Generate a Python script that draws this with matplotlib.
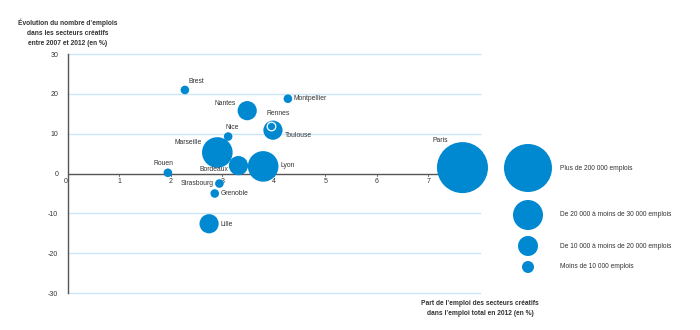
import numpy as np
import matplotlib.pyplot as plt

# Villes : part de l'emploi créatif (x, en %) et évolution 2007-2012 (y, en %)
villes = ["Paris", "Lyon", "Marseille", "Toulouse", "Nantes", "Lille", "Bordeaux",
          "Brest", "Montpellier", "Rennes", "Nice", "Rouen", "Strasbourg", "Grenoble"]
part = [7.66, 3.79, 2.90, 3.98, 3.48, 2.74, 3.31,
        2.27, 4.27, 3.95, 3.11, 1.94, 2.94, 2.85]
evolution = [1.5, 1.8, 5.3, 10.9, 15.8, -12.6, 2.0,
             21.0, 18.8, 12.0, 9.3, 0.2, -2.5, -5.0]
# classe d'emplois : 0 = plus de 200 000, 1 = 20-30 000, 2 = 10-20 000, 3 = moins de 10 000
classe = [0, 1, 1, 2, 2, 2, 2, 3, 3, 3, 3, 3, 3, 3]

classes_legende = ["Plus de 200 000 emplois",
                   "De 20 000 à moins de 30 000 emplois",
                   "De 10 000 à moins de 20 000 emplois",
                   "Moins de 10 000 emplois"]

x_ticks = [0, 1, 2, 3, 4, 5, 6, 7, 8]
y_ticks = [-30, -20, -10, 0, 10, 20, 30]

BLEU = "#0088d1"
GRILLE = "#c8e6f8"
GRIS = "#555555"
TEXTE = "#333333"
DPI = 100

plt.rcParams['font.family'] = ['Liberation Sans Narrow', 'Liberation Sans', 'DejaVu Sans']


def aire(r_px):
    # rayon en pixels -> aire de marqueur en points^2
    return (2 * r_px * 72 / DPI) ** 2


rayon_ville = [25.5, 15.3, 9.6, 4.3]
rayon_legende = [24, 15, 10, 6]

fig = plt.figure(figsize=(7, 3.3), dpi=DPI)
ax = fig.add_axes([0.0971, 0.112, 0.5886, 0.724])
ax.set_xlim(0, 8)
ax.set_ylim(-30, 30)

for yt in y_ticks:
    if yt != 0:
        ax.axhline(yt, color=GRILLE, lw=1.0, zorder=1, clip_on=False)
ax.axhline(0, color=GRIS, lw=1.0, zorder=2)

for s in ["top", "right", "bottom"]:
    ax.spines[s].set_visible(False)
ax.spines["left"].set_color(GRIS)
ax.spines["left"].set_linewidth(1.0)
ax.spines["left"].set_zorder(3)

ax.set_yticks(y_ticks)
ax.set_yticklabels([str(v) for v in y_ticks], fontsize=5.0, color=TEXTE)
ax.tick_params(axis="y", length=0, pad=7)
ax.set_xticks([])
for xt in x_ticks:
    ax.plot([xt, xt], [0, -0.6], color=GRIS, lw=0.6, zorder=2)
    ax.text(xt, -2.1, str(xt), fontsize=5.0, color=TEXTE,
            ha="right" if xt == 0 else "center", va="center")

tailles = [aire(rayon_ville[c]) for c in classe]
ordre = np.argsort([-t for t in tailles], kind="stable")
for i in ordre:
    rennes = villes[i] == "Rennes"
    ax.scatter(part[i], evolution[i], s=tailles[i], color=BLEU,
               edgecolors="white" if rennes else "none",
               linewidths=0.9 if rennes else 0, zorder=4 if rennes else 3,
               clip_on=False)

# décalage des étiquettes en pixels (dx, dy, alignement)
decalages = {
    "Paris": (-22, 27, "center"),
    "Lyon": (17, 1, "left"),
    "Marseille": (-16, 10, "right"),
    "Toulouse": (12, -5, "left"),
    "Nantes": (-11, 7, "right"),
    "Lille": (11, -1, "left"),
    "Bordeaux": (-10, -4, "right"),
    "Brest": (4, 8, "left"),
    "Montpellier": (6, 0, "left"),
    "Rennes": (7, 12, "center"),
    "Nice": (4, 9, "center"),
    "Rouen": (-4, 9, "center"),
    "Strasbourg": (-6, 0, "right"),
    "Grenoble": (6, 0, "left"),
}
for i, v in enumerate(villes):
    dx, dy, ha = decalages[v]
    ax.annotate(v, (part[i], evolution[i]), xytext=(dx * 0.72, dy * 0.72),
                textcoords="offset points", fontsize=4.85, color=TEXTE,
                ha=ha, va="center", zorder=5)

ax.text(0, 35.4, "Évolution du nombre d’emplois\ndans les secteurs créatifs\nentre 2007 et 2012 (en %)",
        fontsize=4.8, fontweight="bold", color=TEXTE, ha="center", va="center",
        linespacing=1.55, clip_on=False)
ax.text(8, -33.8, "Part de l’emploi des secteurs créatifs\ndans l’emploi total en 2012 (en %)",
        fontsize=4.8, fontweight="bold", color=TEXTE, ha="center", va="center",
        linespacing=1.55, clip_on=False)

# légende des tailles
lax = fig.add_axes([0, 0, 1, 1], zorder=5)
lax.set_xlim(0, 700)
lax.set_ylim(330, 0)
lax.axis("off")
leg_y = [168, 215, 246, 267]
for lab, r, y in zip(classes_legende, rayon_legende, leg_y):
    lax.scatter(528, y, s=aire(r), color=BLEU, edgecolors="none")
    lax.text(560, y, lab, fontsize=4.75, color=TEXTE, ha="left", va="center")

fig.savefig("out.png", dpi=DPI)
